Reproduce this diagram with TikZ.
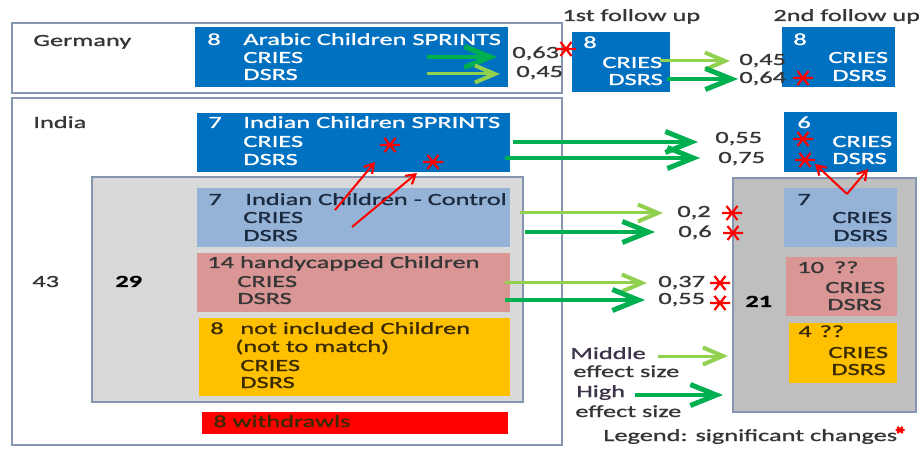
\documentclass[tikz,border=0pt]{standalone}
\usepackage{fontspec}
\setmainfont[FakeStretch=1.55, FakeBold=1.2]{Carlito}
\usetikzlibrary{arrows.meta}

\definecolor{boxblue}{HTML}{0070C0}
\definecolor{ctrlblue}{HTML}{95B3D7}
\definecolor{rose}{HTML}{D99694}
\definecolor{amber}{HTML}{FFC000}
\definecolor{alarmred}{HTML}{FF0000}
\definecolor{poolgray}{HTML}{D9D9D9}
\definecolor{followgray}{HTML}{BFBFBF}
\definecolor{framegray}{HTML}{8496B0}
\definecolor{midgreen}{HTML}{92D050}
\definecolor{highgreen}{HTML}{00B050}
\definecolor{inkgray}{HTML}{363636}
\definecolor{inknavy}{HTML}{1C2A40}
\definecolor{inkbrown}{HTML}{3A2A00}
\definecolor{inkplum}{HTML}{3E3348}

\tikzset{every picture/.style={line width=0.75pt}}

\begin{document}
\begin{tikzpicture}[x=1pt,y=-1pt,
  every node/.style={font=\fontsize{17}{20}\selectfont},
  frame/.style={draw=framegray, line width=1.5pt},
  box/.style={anchor=north west, inner sep=0pt, outer sep=0pt},
  txt/.style={anchor=base west, inner sep=0pt},
  mid/.style={draw=midgreen, line width=3pt, -{Straight Barb[length=20pt,width=17pt,line width=4pt]}},
  high/.style={draw=highgreen, line width=4pt, -{Straight Barb[length=26pt,width=21pt,line width=5pt]}},
  redarrow/.style={draw=alarmred, line width=2pt, -{Straight Barb[length=9pt,width=11pt,line width=2.2pt]}},
  sigstar/.pic={\draw[alarmred, line width=2.2pt] (-10,0) -- (10,0) (-5.5,-7) -- (5.5,7) (-5.5,7) -- (5.5,-7);}]
\useasboundingbox (0,0) rectangle (919,449);

%Frames and boxes
\node[box, frame, minimum width=550pt, minimum height=70pt] (germany) at (12,23) {};
\node[box, fill=boxblue, minimum width=313pt, minimum height=60pt] (gerSprints) at (195,27) {};
\node[box, fill=boxblue, minimum width=98pt, minimum height=60pt] (gerFirst) at (572,32) {};
\node[box, fill=boxblue, minimum width=113pt, minimum height=60pt] (gerSecond) at (782,27) {};

\node[box, frame, minimum width=550pt, minimum height=347pt] (india) at (12,98) {};
\node[box, frame, fill=poolgray, minimum width=431pt, minimum height=225pt] (pool) at (92,177) {};
\node[box, fill=boxblue, minimum width=313pt, minimum height=59pt] (indSprints) at (197,113) {};
\node[box, fill=ctrlblue, minimum width=313pt, minimum height=59pt] (indControl) at (197,188) {};
\node[box, fill=rose, minimum width=313pt, minimum height=59pt] (indHandicap) at (197,253) {};
\node[box, fill=amber, minimum width=311pt, minimum height=78pt] (indExcluded) at (199,318) {};
\node[box, fill=alarmred, minimum width=306pt, minimum height=22pt] (withdrawn) at (202,412) {};

\node[box, frame, fill=followgray, minimum width=183pt, minimum height=234pt] (follow) at (733,178) {};
\node[box, fill=boxblue, minimum width=113pt, minimum height=60pt] (folSprints) at (784,112) {};
\node[box, fill=ctrlblue, minimum width=113pt, minimum height=59pt] (folControl) at (784,188) {};
\node[box, fill=rose, minimum width=111pt, minimum height=59pt] (folHandicap) at (786,257) {};
\node[box, fill=amber, minimum width=108pt, minimum height=60pt] (folExcluded) at (789,323) {};

%Arrow ends
\coordinate (gA1) at (427,57);  \coordinate (gA2) at (497,57);
\coordinate (gB1) at (427,74);  \coordinate (gB2) at (500,74);
\coordinate (fA1) at (660,61);  \coordinate (fA2) at (730,61);
\coordinate (fB1) at (667,79);  \coordinate (fB2) at (738,79);
\coordinate (sA1) at (513,142); \coordinate (sA2) at (698,142);
\coordinate (sB1) at (505,158); \coordinate (sB2) at (700,158);
\coordinate (cA1) at (520,213); \coordinate (cA2) at (663,213);
\coordinate (cB1) at (525,232); \coordinate (cB2) at (655,232);
\coordinate (hA1) at (505,283); \coordinate (hA2) at (647,283);
\coordinate (hB1) at (505,300); \coordinate (hB2) at (645,300);
\coordinate (lA1) at (658,356); \coordinate (lA2) at (728,356);
\coordinate (lB1) at (635,395); \coordinate (lB2) at (723,395);
\coordinate (rA1) at (335,210); \coordinate (rA2) at (375,162);
\coordinate (rB1) at (352,227); \coordinate (rB2) at (417,173);
\coordinate (vtx) at (847,194);
\coordinate (vL) at (815,164);  \coordinate (vR) at (868,169);

%Effect arrows
\draw[high] (gA1) -- (gA2);
\draw[mid] (gB1) -- (gB2);
\draw[mid] (fA1) -- (fA2);
\draw[high] (fB1) -- (fB2);
\draw[high] (sA1) -- (sA2);
\draw[high] (sB1) -- (sB2);
\draw[mid] (cA1) -- (cA2);
\draw[high] (cB1) -- (cB2);
\draw[mid] (hA1) -- (hA2);
\draw[high] (hB1) -- (hB2);
\draw[mid] (lA1) -- (lA2);
\draw[high] (lB1) -- (lB2);

% Text Node: Germany
\node[txt, text=inkgray] (gerName) at (33,46) {Germany};
\node[txt, white] (gerN) at (207,45) {8};
\node[txt, white] (gerTitle) at (243,45) {Arabic Children\hspace{6pt}SPRINTS};
\node[txt, white] (gerCries) at (243,63) {CRIES};
\node[txt, white] (gerDsrs) at (243,80) {DSRS};
\node[txt, text=inkgray] (gerValA) at (512,58) {0,63};
\node[txt, text=inkgray] (gerValB) at (516,77) {0,45};
\node[txt, text=inkgray] (firstHead) at (562,21) {1st follow up};
\node[txt, white] (firstN) at (583,48) {8};
\node[txt, white] (firstCries) at (602,68) {CRIES};
\node[txt, white] (firstDsrs) at (608,85) {DSRS};
\node[txt, text=inkgray] (firstValA) at (739,65) {0,45};
\node[txt, text=inkgray] (firstValB) at (739,83) {0,64};
\node[txt, text=inkgray] (secondHead) at (773,21) {2nd follow up};
\node[txt, white] (secondN) at (793,45) {8};
\node[txt, white] (secondCries) at (828,63) {CRIES};
\node[txt, white] (secondDsrs) at (832,81) {DSRS};

% Text Node: India
\node[txt, text=inkgray] (indName) at (33,128) {India};
\node[txt, text=inkgray] (indTotal) at (32,287) {43};
\node[txt, text=black, font=\fontsize{17}{20}\selectfont\bfseries] (poolTotal) at (115,287) {29};
\node[txt, white] (sprN) at (208,128) {7};
\node[txt, white] (sprTitle) at (243,128) {Indian Children SPRINTS};
\node[txt, white] (sprCries) at (243,147) {CRIES};
\node[txt, white] (sprDsrs) at (243,165) {DSRS};
\node[txt, text=inkgray] (sprValA) at (715,143) {0,55};
\node[txt, text=inkgray] (sprValB) at (718,163) {0,75};
\node[txt, text=inknavy] (ctrlN) at (208,205) {7};
\node[txt, text=inknavy] (ctrlTitle) at (245,205) {Indian Children - Control};
\node[txt, text=inknavy] (ctrlCries) at (243,223) {CRIES};
\node[txt, text=inknavy] (ctrlDsrs) at (243,241) {DSRS};
\node[txt, text=inkgray] (ctrlValA) at (677,217) {0,2};
\node[txt, text=inkgray] (ctrlValB) at (678,237) {0,6};
\node[txt, text=inkgray] (hcTitle) at (207,268) {14 handycapped Children};
\node[txt, text=inkgray] (hcCries) at (237,287) {CRIES};
\node[txt, text=inkgray] (hcDsrs) at (237,304) {DSRS};
\node[txt, text=inkgray] (hcValA) at (658,287) {0,37};
\node[txt, text=inkgray] (hcValB) at (658,304) {0,55};
\node[txt, text=inkbrown] (exN) at (210,334) {8};
\node[txt, text=inkbrown] (exTitle) at (240,334) {not included Children};
\node[txt, text=inkbrown] (exNote) at (235,352) {(not to match)};
\node[txt, text=inkbrown] (exCries) at (240,371) {CRIES};
\node[txt, text=inkbrown] (exDsrs) at (240,388) {DSRS};
\node[txt, text=inkbrown] (wdTitle) at (213,427) {8 withdrawls};

% Text Node: follow up
\node[txt, text=black, font=\fontsize{17}{20}\selectfont\bfseries] (folTotal) at (745,307) {21};
\node[txt, white] (fsN) at (797,128) {6};
\node[txt, white] (fsCries) at (832,147) {CRIES};
\node[txt, white] (fsDsrs) at (832,164) {DSRS};
\node[txt, text=inknavy] (fcN) at (797,205) {7};
\node[txt, text=inknavy] (fcCries) at (832,223) {CRIES};
\node[txt, text=inknavy] (fcDsrs) at (833,241) {DSRS};
\node[txt, text=inkgray] (fhN) at (797,273) {10\hspace{10pt}??};
\node[txt, text=inkgray] (fhCries) at (825,293) {CRIES};
\node[txt, text=inkgray] (fhDsrs) at (827,310) {DSRS};
\node[txt, text=inkbrown] (feN) at (798,337) {4\hspace{8pt}??};
\node[txt, text=inkbrown] (feCries) at (828,358) {CRIES};
\node[txt, text=inkbrown] (feDsrs) at (831,375) {DSRS};

% Text Node: legend
\node[txt, text=inkplum] (midName) at (570,359) {Middle};
\node[txt, text=inkgray] (midSize) at (573,377) {effect size};
\node[txt, text=inkplum] (highName) at (576,397) {High};
\node[txt, text=inkgray] (highSize) at (575,417) {effect size};
\node[txt, text=inkgray] (legend) at (603,441) {Legend: significant changes};

%Red arrows
\draw[redarrow] (rA1) -- (rA2);
\draw[redarrow] (rB1) -- (rB2);
\draw[redarrow] (vtx) -- (vL);
\draw[redarrow] (vtx) -- (vR);

%Significance marks
\foreach \p in {(566,49),(803,78),(390,145),(433,162),(732,213),(733,233),(720,283),(720,303),(803,139),(805,160)}
  \pic at \p {sigstar};
\pic[scale=0.45] at (900,430) {sigstar};

\end{tikzpicture}
\end{document}
